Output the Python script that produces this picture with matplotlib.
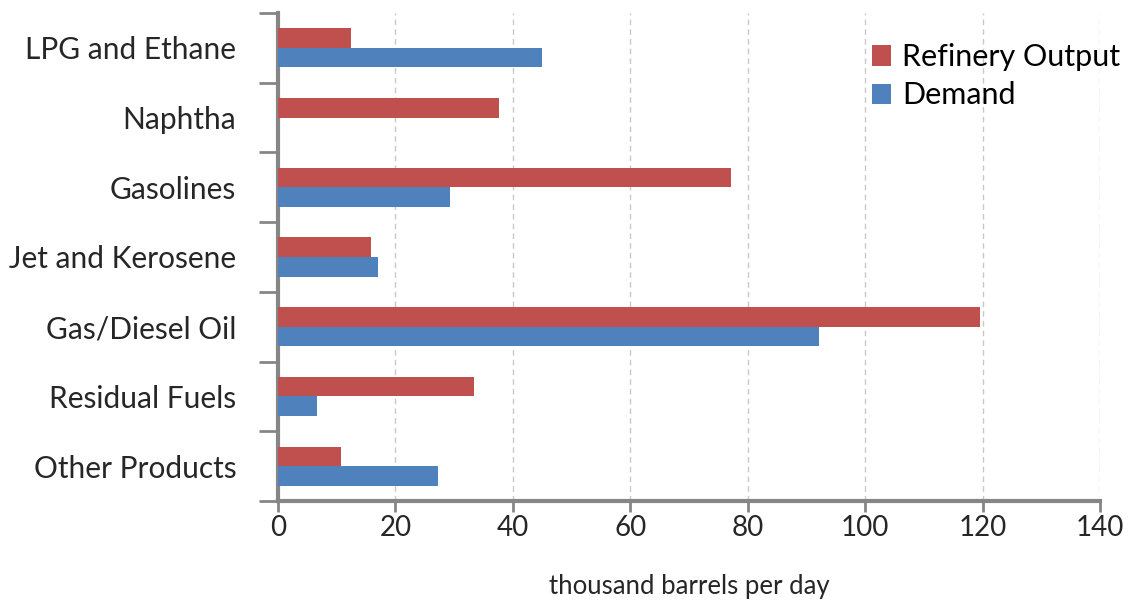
import numpy as np
import matplotlib
matplotlib.use('Agg')
import matplotlib.pyplot as plt

plt.rcParams['font.family'] = ['Lato', 'DejaVu Sans']

categories = ['LPG and Ethane', 'Naphtha', 'Gasolines', 'Jet and Kerosene',
              'Gas/Diesel Oil', 'Residual Fuels', 'Other Products']
refinery_output = [12.5, 37.7, 77.1, 15.8, 119.5, 33.4, 10.7]
demand = [45.0, 0.0, 29.3, 17.0, 92.1, 6.7, 27.2]
xticks = [0, 20, 40, 60, 80, 100, 120, 140]

red = '#C0504D'
blue = '#4F81BD'
axis_grey = '#868686'

fig = plt.figure(figsize=(11.29, 6.03), dpi=100)
ax = fig.add_axes([0.2462, 0.1692, 0.7281, 0.8092])

y = np.arange(len(categories))
h = 0.28
ax.barh(y - h/2, refinery_output, height=h, color=red, label='Refinery Output', zorder=3)
ax.barh(y + h/2, demand, height=h, color=blue, label='Demand', zorder=3)

ax.set_xlim(0, 140)
ax.set_ylim(len(categories) - 0.5, -0.5)
ax.set_xticks(xticks)
ax.set_xticklabels([str(t) for t in xticks], fontsize=20, color='#262626')

# category labels between the boundary ticks
ax.set_yticks(y)
ax.set_yticklabels(categories, fontsize=21.5, color='#262626')
ax.tick_params(axis='y', which='major', length=0, pad=30)
ax.set_yticks(np.arange(len(categories) + 1) - 0.5, minor=True)
ax.tick_params(axis='y', which='minor', length=14, width=2, color=axis_grey, direction='out')
ax.tick_params(axis='x', length=8, width=2, color=axis_grey, direction='out', pad=2)

ax.grid(axis='x', color='#C8C8C8', linestyle=(0, (4, 3)), linewidth=1, zorder=0)
ax.set_axisbelow(True)

for s in ['top', 'right']:
    ax.spines[s].set_visible(False)
for s in ['left', 'bottom']:
    ax.spines[s].set_color(axis_grey)
    ax.spines[s].set_linewidth(3)

ax.set_xlabel('thousand barrels per day', fontsize=18.5, color='#262626', labelpad=24)

fig.legend(loc='upper left', bbox_to_anchor=(0.772, 0.928), frameon=False,
           fontsize=22, handlelength=0.65, handleheight=0.65, handletextpad=0.35,
           labelspacing=0.33, borderaxespad=0, borderpad=0)

fig.savefig('out.png', dpi=100)
